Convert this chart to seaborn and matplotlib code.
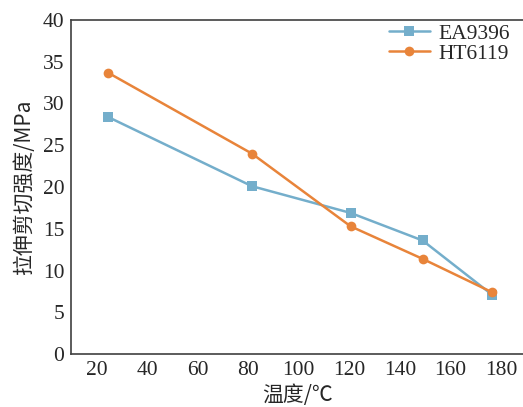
import matplotlib
matplotlib.use("Agg")
import matplotlib.pyplot as plt
import seaborn as sns
import pandas as pd

temps = [24.5, 81.5, 120.5, 149, 176.5]
ea9396 = [28.4, 20.1, 16.9, 13.6, 7.1]
ht6119 = [33.7, 24.0, 15.3, 11.4, 7.4]
series_names = ["EA9396", "HT6119"]
colors = ["#74AECB", "#E8843A"]
markers = ["s", "o"]
xticks = [20, 40, 60, 80, 100, 120, 140, 160, 180]
yticks = [0, 5, 10, 15, 20, 25, 30, 35, 40]

sns.set_style("white")
plt.rcParams['font.family'] = ['Liberation Serif', 'Noto Sans CJK SC']
plt.rcParams['axes.unicode_minus'] = False

fig = plt.figure(figsize=(5.23, 4.07), dpi=100)
ax = fig.add_axes([0.136, 0.130, 0.864, 0.821])

for name, vals, c, m in zip(series_names, [ea9396, ht6119], colors, markers):
    df = pd.DataFrame({"x": temps, "y": vals})
    sns.lineplot(data=df, x="x", y="y", ax=ax, color=c, marker=m,
                 markersize=7, markeredgewidth=0, linewidth=1.8, label=name)

ax.set_xlim(10, 188.7)
ax.set_ylim(0, 40)
ax.set_xticks(xticks)
ax.set_yticks(yticks)
ax.tick_params(direction="in", length=5, width=1.1, labelsize=15.5, color="#404040",
               pad=5)
for s in ax.spines.values():
    s.set_color("#404040")
    s.set_linewidth(1.2)
ax.spines["right"].set_visible(False)
ax.set_xlabel("温度/℃", fontsize=15, family=['Noto Sans CJK SC', 'Liberation Serif'], labelpad=3)
ax.set_ylabel("拉伸剪切强度/MPa", fontsize=15, family=['Noto Sans CJK SC', 'Liberation Serif'], labelpad=5)
ax.legend(loc="upper right", frameon=False, fontsize=15.5, handlelength=1.9,
          borderaxespad=0.0, labelspacing=0.0, handletextpad=0.4,
          bbox_to_anchor=(0.99, 1.015))

fig.savefig("out.png", dpi=100)
